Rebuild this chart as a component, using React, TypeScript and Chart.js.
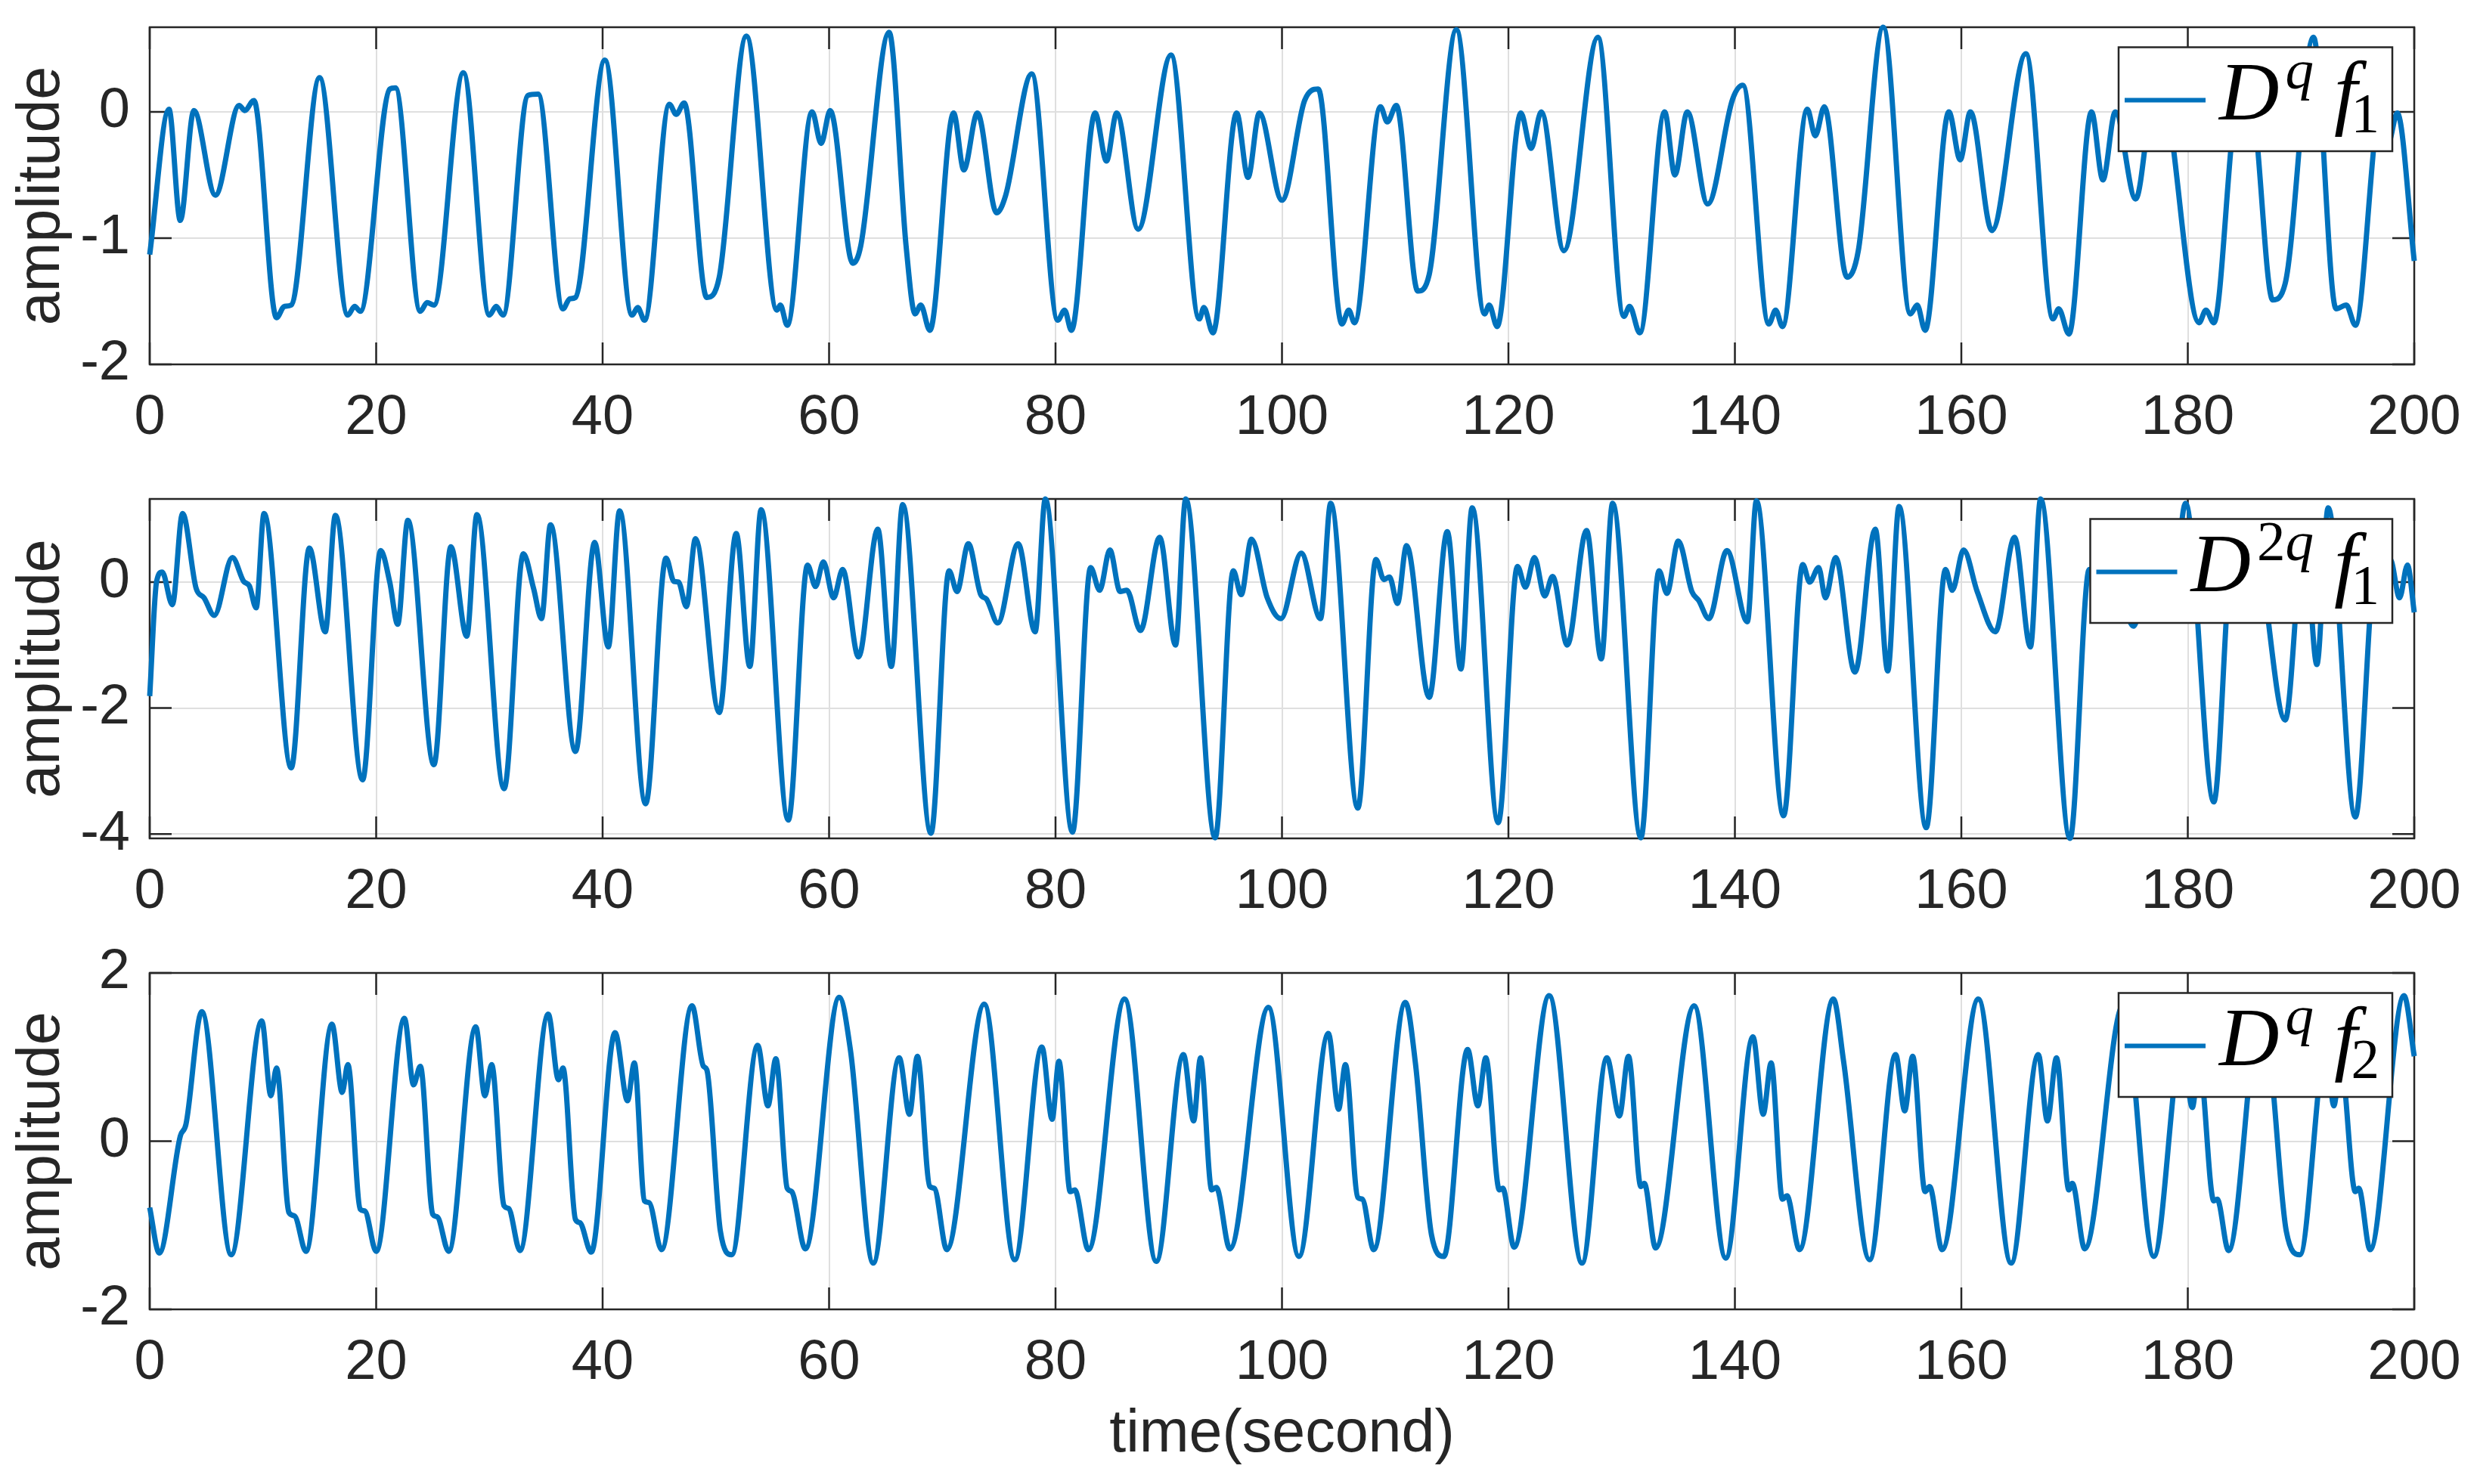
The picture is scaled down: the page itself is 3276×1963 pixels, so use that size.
import { useEffect, useRef } from "react"
import { Chart, registerables } from "chart.js"

Chart.register(...registerables)

// shared time axis
const xTicks = [0, 20, 40, 60, 80, 100, 120, 140, 160, 180, 200]

// D^q f1  [time, amplitude]
const dqF1: [number, number][] = [
  [0, -1.13], [1.7, 0.02], [2.7, -0.86], [3.9, 0.01], [5.8, -0.66], [7.9, 0.05], [8.4, 0.01], [9.2, 0.09],
  [11.2, -1.63], [11.9, -1.54], [12.5, -1.53], [15.0, 0.27], [17.5, -1.61], [18.1, -1.54], [18.6, -1.58],
  [21.2, 0.18], [21.7, 0.19], [23.9, -1.58], [24.5, -1.51], [25.1, -1.53], [27.7, 0.31], [30.0, -1.61],
  [30.6, -1.54], [31.2, -1.61], [33.4, 0.13], [34.3, 0.14], [36.5, -1.56], [37.1, -1.48], [37.6, -1.47],
  [40.2, 0.41], [42.6, -1.61], [43.1, -1.55], [43.7, -1.65], [45.9, 0.06], [46.5, -0.02], [47.2, 0.07],
  [49.2, -1.47], [50.3, -1.31], [52.7, 0.6], [55.4, -1.57], [55.7, -1.53], [56.3, -1.69], [58.5, 0.0],
  [59.3, -0.25], [60.1, 0.01], [62.1, -1.2], [62.8, -1.06], [65.3, 0.63], [66.8, -1.06], [67.6, -1.6],
  [68.1, -1.53], [68.9, -1.73], [71.0, -0.01], [71.9, -0.46], [73.1, -0.01], [74.8, -0.8], [75.6, -0.66],
  [77.9, 0.3], [80.2, -1.65], [80.8, -1.57], [81.4, -1.73], [83.5, -0.01], [84.5, -0.39], [85.4, -0.01],
  [87.3, -0.93], [90.2, 0.45], [92.7, -1.64], [93.1, -1.55], [93.9, -1.75], [96.0, -0.01], [97.0, -0.52],
  [98.0, -0.01], [100.0, -0.7], [102.0, 0.09], [103.2, 0.18], [105.3, -1.68], [105.9, -1.57], [106.4, -1.67],
  [108.7, 0.04], [109.3, -0.08], [110.1, 0.05], [112.0, -1.42], [113.0, -1.29], [115.4, 0.65], [117.9, -1.6],
  [118.3, -1.53], [119.0, -1.7], [121.1, -0.01], [122.0, -0.29], [122.9, 0.0], [124.9, -1.1], [127.9, 0.59],
  [130.2, -1.62], [130.7, -1.54], [131.6, -1.75], [133.8, 0.0], [134.7, -0.5], [135.8, 0.0], [137.6, -0.73],
  [139.8, 0.1], [140.7, 0.21], [143.0, -1.68], [143.6, -1.57], [144.2, -1.7], [146.4, 0.02], [147.1, -0.19],
  [147.9, 0.04], [149.9, -1.31], [150.9, -1.1], [153.1, 0.67], [155.5, -1.6], [156.1, -1.53], [156.8, -1.73],
  [158.9, 0.0], [159.9, -0.38], [160.8, 0.0], [162.7, -0.94], [165.7, 0.46], [168.1, -1.64], [168.6, -1.56],
  [169.5, -1.76], [171.5, 0.0], [172.5, -0.54], [173.6, 0.0], [175.4, -0.69], [176.8, 0.08], [177.6, 0.2],
  [181.0, -1.67], [181.6, -1.57], [182.3, -1.67], [184.4, 0.04], [185.0, -0.06], [185.6, 0.05], [187.5, -1.49],
  [188.6, -1.36], [191.1, 0.59], [193.1, -1.56], [194.0, -1.53], [194.8, -1.69], [197.0, 0.0], [197.7, -0.25],
  [198.5, -0.01], [200, -1.18],
]
const dqF1YTicks = [-2, -1, 0]
const dqF1YRange = [-2, 0.67]

// D^2q f1
const d2qF1: [number, number][] = [
  [0, -1.81], [0.6, 0], [1.1, 0.16], [2.0, -0.36], [2.9, 1.09], [4.1, -0.1], [4.8, -0.25], [5.7, -0.53],
  [7.3, 0.39], [8.3, 0.01], [8.8, -0.06], [9.4, -0.41], [10.1, 1.09], [12.5, -2.95], [14.1, 0.54], [15.5, -0.79],
  [16.4, 1.06], [18.8, -3.14], [20.4, 0.5], [21.2, 0], [21.9, -0.67], [22.8, 0.98], [25.1, -2.9], [26.6, 0.56],
  [28.0, -0.86], [28.9, 1.07], [31.3, -3.28], [33.0, 0.45], [33.9, -0.1], [34.6, -0.58], [35.4, 0.91],
  [37.6, -2.69], [39.3, 0.63], [40.5, -1.03], [41.5, 1.13], [43.8, -3.52], [45.6, 0.38], [46.3, 0.01],
  [46.7, 0], [47.4, -0.39], [48.2, 0.69], [50.3, -2.07], [51.8, 0.77], [53.0, -1.34], [54.0, 1.15],
  [56.4, -3.78], [58.1, 0.27], [58.8, -0.07], [59.5, 0.32], [60.4, -0.25], [61.2, 0.2], [62.6, -1.19],
  [64.3, 0.84], [65.5, -1.34], [66.5, 1.23], [69.0, -3.99], [70.6, 0.18], [71.3, -0.15], [72.3, 0.61],
  [73.4, -0.2], [73.9, -0.27], [74.9, -0.65], [76.7, 0.61], [78.2, -0.79], [79.1, 1.32], [81.5, -3.97],
  [83.1, 0.23], [83.9, -0.13], [84.8, 0.51], [85.7, -0.15], [86.3, -0.13], [87.5, -0.77], [89.2, 0.71],
  [90.6, -1.0], [91.5, 1.32], [94.1, -4.06], [95.7, 0.18], [96.4, -0.2], [97.3, 0.68], [98.7, -0.25],
  [99.9, -0.58], [101.7, 0.46], [103.4, -0.58], [104.3, 1.25], [106.7, -3.59], [108.3, 0.36], [109.0, 0.04],
  [109.5, 0.08], [110.2, -0.34], [111.0, 0.58], [113.0, -1.83], [114.6, 0.8], [115.8, -1.38], [116.8, 1.18],
  [119.1, -3.82], [120.8, 0.25], [121.5, -0.08], [122.3, 0.39], [123.2, -0.22], [123.9, 0.09], [125.2, -1.0],
  [126.9, 0.82], [128.2, -1.22], [129.2, 1.25], [131.7, -4.06], [133.3, 0.18], [134.0, -0.18], [135.0, 0.65],
  [136.2, -0.15], [136.8, -0.29], [137.7, -0.58], [139.3, 0.5], [141.1, -0.63], [141.9, 1.29], [144.3, -3.71],
  [146.0, 0.28], [146.6, 0], [147.4, 0.23], [148.0, -0.25], [148.9, 0.39], [150.6, -1.43], [152.4, 0.84],
  [153.5, -1.41], [154.5, 1.2], [156.9, -3.9], [158.6, 0.2], [159.2, -0.13], [160.2, 0.51], [161.4, -0.15],
  [163.0, -0.79], [164.7, 0.71], [166.1, -1.03], [167.0, 1.32], [169.6, -4.07], [171.3, 0.2], [172.0, -0.1],
  [173.0, 0.6], [174.2, -0.2], [175.2, -0.7], [176.8, 0.5], [178.5, -0.6], [179.8, 1.25], [182.3, -3.49],
  [183.9, 0.3], [184.5, 0.0], [185.9, 0.55], [188.6, -2.19], [190.3, 0.8], [191.4, -1.31], [192.4, 1.18],
  [194.8, -3.73], [196.6, 0.25], [197.2, -0.05], [197.9, 0.35], [198.7, -0.25], [199.4, 0.27], [200, -0.48],
]
const d2qF1YTicks = [-4, -2, 0]
const d2qF1YRange = [-4.07, 1.32]

// D^q f2
const dqF2: [number, number][] = [
  [0, -0.79], [0.84, -1.33], [2.7, 0.06], [3.2, 0.2], [4.6, 1.54], [7.2, -1.35], [9.9, 1.43], [10.7, 0.54],
  [11.2, 0.87], [12.3, -0.85], [12.8, -0.89], [13.8, -1.31], [16.1, 1.39], [17.0, 0.58], [17.5, 0.91],
  [18.6, -0.81], [19.0, -0.83], [20.0, -1.31], [22.5, 1.46], [23.3, 0.67], [23.9, 0.89], [25.0, -0.87],
  [25.4, -0.9], [26.4, -1.31], [28.8, 1.36], [29.6, 0.54], [30.2, 0.91], [31.3, -0.77], [31.7, -0.8],
  [32.7, -1.3], [35.2, 1.51], [36.1, 0.73], [36.5, 0.87], [37.6, -0.93], [38.0, -0.97], [39.0, -1.32],
  [41.1, 1.29], [42.2, 0.48], [42.8, 0.93], [43.7, -0.71], [44.1, -0.73], [45.2, -1.29], [47.9, 1.61],
  [48.9, 0.89], [49.2, 0.85], [50.4, -1.07], [51.4, -1.35], [53.7, 1.14], [54.6, 0.42], [55.3, 0.98],
  [56.3, -0.56], [56.7, -0.6], [57.9, -1.28], [60.9, 1.71], [61.9, 1.07], [63.9, -1.45], [66.2, 0.99],
  [67.1, 0.32], [67.8, 1.01], [68.9, -0.54], [69.3, -0.56], [70.4, -1.29], [73.7, 1.63], [76.4, -1.41],
  [78.8, 1.12], [79.7, 0.26], [80.3, 0.95], [81.3, -0.6], [81.7, -0.58], [82.9, -1.29], [86.1, 1.69],
  [88.9, -1.43], [91.3, 1.03], [92.2, 0.24], [92.8, 0.99], [93.8, -0.58], [94.2, -0.55], [95.4, -1.28],
  [98.8, 1.59], [101.5, -1.37], [104.1, 1.28], [105.0, 0.38], [105.6, 0.91], [106.7, -0.67], [107.1, -0.69],
  [108.1, -1.29], [110.9, 1.65], [111.8, 0.91], [113.2, -1.11], [114.3, -1.37], [116.4, 1.09], [117.3, 0.42],
  [118.0, 0.99], [119.2, -0.58], [119.5, -0.56], [120.5, -1.26], [123.6, 1.73], [126.5, -1.45], [128.7, 0.99],
  [129.8, 0.3], [130.6, 1.01], [131.7, -0.54], [132.0, -0.5], [133.0, -1.27], [136.4, 1.61], [139.2, -1.39],
  [141.6, 1.24], [142.5, 0.32], [143.2, 0.93], [144.2, -0.69], [144.6, -0.65], [145.7, -1.29], [148.7, 1.69],
  [149.6, 0.95], [151.9, -1.41], [154.2, 1.03], [155.0, 0.36], [155.7, 1.01], [156.8, -0.6], [157.2, -0.54],
  [158.3, -1.29], [161.5, 1.69], [164.4, -1.45], [166.8, 1.03], [167.6, 0.24], [168.4, 0.99], [169.5, -0.58],
  [169.8, -0.5], [170.9, -1.28], [174.3, 1.62], [177.0, -1.37], [179.5, 1.15], [180.4, 0.4], [181.0, 0.95],
  [182.3, -0.71], [182.6, -0.69], [183.6, -1.3], [186.5, 1.65], [187.3, 0.95], [188.7, -1.07], [189.9, -1.35],
  [192.2, 1.1], [192.9, 0.42], [193.5, 0.95], [194.8, -0.6], [195.1, -0.56], [196.1, -1.29], [199.1, 1.73],
  [200, 1.01],
]
const dqF2YTicks = [-2, 0, 2]
const dqF2YRange = [-2, 2]

// legend text pieces: base^sup fn_sub
const legendBase = ["D", "D", "D"]
const legendSup = ["q", "2q", "q"]
const legendFn = ["f", "f", "f"]
const legendSub = ["1", "1", "2"]

const yLabel = "amplitude"
const xLabel = "time(second)"

const LINE_COLOR = "#0072BD"
const AXIS_COLOR = "#262626"
const GRID_COLOR = "#dfdfdf"
const SANS = '"Liberation Sans", Arial, Helvetica, sans-serif'
const SERIF = '"Liberation Serif", "Times New Roman", serif'

const PLOT_LEFT = 198
const PLOT_RIGHT = 3193
const CANVAS_WIDTH = 3400
const TOP_PAD = 100
const TICK_LEN = 29

const panels = [
  { series: dqF1, yTicks: dqF1YTicks, yRange: dqF1YRange, plotTop: 36, plotBottom: 482, axisHeight: 140, xTitle: false },
  { series: d2qF1, yTicks: d2qF1YTicks, yRange: d2qF1YRange, plotTop: 660, plotBottom: 1109, axisHeight: 140, xTitle: false },
  { series: dqF2, yTicks: dqF2YTicks, yRange: dqF2YRange, plotTop: 1287, plotBottom: 1732, axisHeight: 214, xTitle: true },
]

// draws characters one by one: letters italic, digits upright
function drawRun(ctx: CanvasRenderingContext2D, text: string, x: number, y: number, size: number, draw: boolean) {
  let cx = x
  for (const ch of text) {
    const italic = /[a-zA-Z]/.test(ch)
    ctx.font = `${italic ? "italic " : ""}${size}px ${SERIF}`
    if (draw) ctx.fillText(ch, cx, y)
    cx += ctx.measureText(ch).width
  }
  return cx
}

function legendPlugin(index: number) {
  return {
    id: "matlabLegend",
    afterDatasetsDraw(chart: Chart) {
      const { ctx, chartArea } = chart
      const layout = (draw: boolean, ox: number, oy: number) => {
        let x = drawRun(ctx, legendBase[index], ox + 133, oy + 95.5, 110, draw)
        x = drawRun(ctx, legendSup[index], x + 8, oy + 54.5, 75, draw)
        x = drawRun(ctx, legendFn[index], x + 27, oy + 95.5, 110, draw)
        x = drawRun(ctx, legendSub[index], x - 8, oy + 112, 75, draw)
        return x - ox
      }
      ctx.save()
      const width = layout(false, 0, 0) + 17
      const height = 137.5
      const left = chartArea.right - 29 - width
      const top = chartArea.top + 26.5
      ctx.fillStyle = "#ffffff"
      ctx.fillRect(left, top, width, height)
      ctx.strokeStyle = AXIS_COLOR
      ctx.lineWidth = 2.5
      ctx.strokeRect(left, top, width, height)
      ctx.strokeStyle = LINE_COLOR
      ctx.lineWidth = 6
      ctx.beginPath()
      ctx.moveTo(left + 8, top + 70)
      ctx.lineTo(left + 115, top + 70)
      ctx.stroke()
      ctx.fillStyle = "#000000"
      ctx.textBaseline = "alphabetic"
      ctx.textAlign = "left"
      layout(true, left, top)
      ctx.restore()
    },
  }
}

function axesPlugin(yTicks: number[]) {
  return {
    id: "matlabAxes",
    beforeDatasetsDraw(chart: Chart) {
      const { ctx, chartArea, scales } = chart
      const { left, right, top, bottom } = chartArea
      ctx.save()
      ctx.strokeStyle = AXIS_COLOR
      ctx.lineWidth = 2.5
      ctx.beginPath()
      xTicks.forEach((v) => {
        const px = scales.x.getPixelForValue(v)
        ctx.moveTo(px, bottom)
        ctx.lineTo(px, bottom - TICK_LEN)
        ctx.moveTo(px, top)
        ctx.lineTo(px, top + TICK_LEN)
      })
      yTicks.forEach((v) => {
        const py = scales.y.getPixelForValue(v)
        ctx.moveTo(left, py)
        ctx.lineTo(left + TICK_LEN, py)
        ctx.moveTo(right, py)
        ctx.lineTo(right - TICK_LEN, py)
      })
      ctx.stroke()
      ctx.strokeRect(left, top, right - left, bottom - top)
      ctx.restore()
    },
  }
}

function Panel({ index }: { index: number }) {
  const chartRef = useRef<HTMLCanvasElement>(null)
  const chartInstance = useRef<Chart | null>(null)
  const panel = panels[index]
  const height = panel.plotBottom - panel.plotTop + TOP_PAD + panel.axisHeight

  useEffect(() => {
    if (!chartRef.current) return
    const ctx = chartRef.current.getContext("2d")
    if (!ctx) return

    if (chartInstance.current) {
      chartInstance.current.destroy()
    }

    chartInstance.current = new Chart(ctx, {
      type: "line",
      data: {
        datasets: [
          {
            data: panel.series.map(([x, y]) => ({ x, y })),
            borderColor: LINE_COLOR,
            borderWidth: 7,
            pointRadius: 0,
            cubicInterpolationMode: "monotone",
            clip: 5,
          },
        ],
      },
      options: {
        responsive: true,
        maintainAspectRatio: false,
        animation: false,
        events: [],
        layout: {
          padding: { top: TOP_PAD, left: 0, right: CANVAS_WIDTH - PLOT_RIGHT, bottom: 0 },
        },
        plugins: {
          legend: { display: false },
          tooltip: { enabled: false },
        },
        scales: {
          x: {
            type: "linear",
            min: 0,
            max: 200,
            afterBuildTicks: (scale: any) => {
              scale.ticks = xTicks.map((value) => ({ value }))
            },
            afterFit: (scale: any) => {
              scale.height = panel.axisHeight
            },
            grid: { color: GRID_COLOR, lineWidth: 2, drawTicks: false },
            border: { display: false },
            ticks: {
              color: AXIS_COLOR,
              font: { family: SANS, size: 74 },
              padding: 27,
              maxRotation: 0,
              autoSkip: false,
              callback: (value: any) => String(value),
            },
            title: {
              display: panel.xTitle,
              text: xLabel,
              color: AXIS_COLOR,
              font: { family: SANS, size: 79 },
              padding: { top: 0, bottom: 0 },
            },
          },
          y: {
            type: "linear",
            min: panel.yRange[0],
            max: panel.yRange[1],
            afterBuildTicks: (scale: any) => {
              scale.ticks = panel.yTicks.map((value) => ({ value }))
            },
            afterFit: (scale: any) => {
              scale.width = PLOT_LEFT
            },
            grid: { color: GRID_COLOR, lineWidth: 2, drawTicks: false },
            border: { display: false },
            ticks: {
              color: AXIS_COLOR,
              font: { family: SANS, size: 74 },
              padding: 26,
              autoSkip: false,
              callback: (value: any) => String(value),
            },
            title: {
              display: true,
              text: yLabel,
              color: AXIS_COLOR,
              font: { family: SANS, size: 79 },
              padding: { top: 9, bottom: 0 },
            },
          },
        },
      },
      plugins: [axesPlugin(panel.yTicks), legendPlugin(index)],
    })

    return () => {
      if (chartInstance.current) {
        chartInstance.current.destroy()
        chartInstance.current = null
      }
    }
  }, [])

  return (
    <div
      style={{
        position: "absolute",
        left: 0,
        top: panel.plotTop - TOP_PAD,
        width: CANVAS_WIDTH,
        height,
      }}
    >
      <canvas ref={chartRef} />
    </div>
  )
}

export default function App() {
  return (
    <div
      style={{
        position: "fixed",
        left: 0,
        top: 0,
        width: 3276,
        height: 1963,
        overflow: "hidden",
        background: "#ffffff",
      }}
    >
      {panels.map((_, i) => (
        <Panel key={i} index={i} />
      ))}
    </div>
  )
}
